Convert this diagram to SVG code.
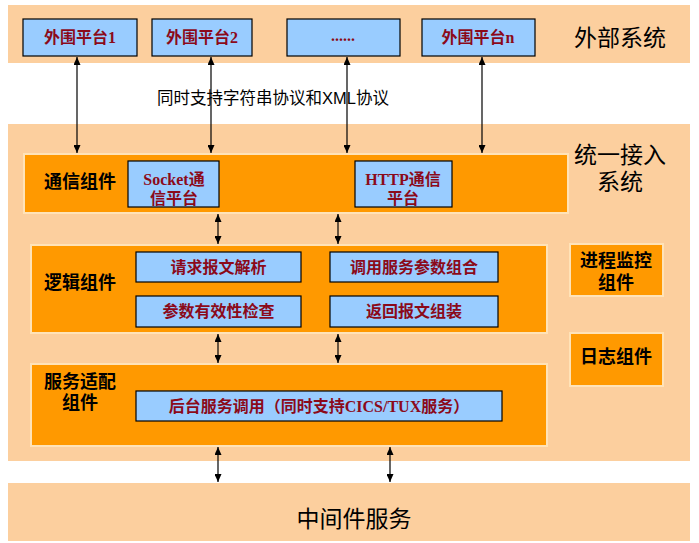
<svg xmlns="http://www.w3.org/2000/svg" width="699" height="543" viewBox="0 0 699 543">
<defs>
<marker id="arr" viewBox="0 0 8 7" refX="8" refY="3.5" markerWidth="8" markerHeight="7" markerUnits="userSpaceOnUse" orient="auto-start-reverse">
<path d="M0,0 L8,3.5 L0,7 z" fill="#000"/>
</marker>
<style>
.band{fill:#FCCF9E}
.comp{fill:#FF9900;stroke:#FFE3B8;stroke-width:2}
.blue{fill:#99CCFF;stroke:#000;stroke-width:1.2}
.bt{font-family:"Liberation Serif","Noto Sans CJK SC",serif;font-size:16px;font-weight:bold;fill:#8B0A1A;text-anchor:middle;dominant-baseline:central}
.ct{font-family:"Liberation Serif","Noto Sans CJK SC",serif;font-size:18px;font-weight:bold;fill:#000;text-anchor:middle;dominant-baseline:central}
.big{font-family:"Liberation Serif","Noto Sans CJK SC",serif;font-size:23px;fill:#000;text-anchor:middle;dominant-baseline:central}
.lbl{font-family:"Liberation Sans","Noto Sans CJK SC",sans-serif;font-size:16.5px;fill:#000;text-anchor:middle;dominant-baseline:central}
.con line{stroke:#000;stroke-width:1.2;marker-start:url(#arr);marker-end:url(#arr)}
</style>
</defs>
<rect width="699" height="543" fill="#fff"/>

<g id="external-band">
<rect class="band" x="8" y="5" width="682" height="58"/>
<text class="big" x="620" y="38">外部系统</text>
</g>
<g id="access-band">
<rect class="band" x="8" y="124" width="682" height="337"/>
<text class="big" x="620" y="155">统一接入</text>
<text class="big" x="620" y="182">系统</text>
</g>
<g id="middleware-band">
<rect class="band" x="8" y="483" width="682" height="58"/>
<text class="big" x="354" y="519">中间件服务</text>
</g>

<g id="platform1"><rect class="blue" x="23" y="19" width="114" height="37"/><text class="bt" x="80" y="37.5">外围平台1</text></g>
<g id="platform2"><rect class="blue" x="152" y="19" width="100" height="37"/><text class="bt" x="202" y="37.5">外围平台2</text></g>
<g id="platform-etc"><rect class="blue" x="287" y="19" width="113" height="37"/><text class="bt" x="343" y="35">......</text></g>
<g id="platformn"><rect class="blue" x="422" y="19" width="113" height="37"/><text class="bt" x="478" y="37.5">外围平台n</text></g>

<text class="lbl" x="273" y="98">同时支持字符串协议和XML协议</text>

<g id="comm">
<rect class="comp" x="24" y="154" width="544" height="59"/>
<text class="ct" x="80" y="182">通信组件</text>
</g>
<g id="socket"><rect class="blue" x="128" y="161" width="91" height="46"/><text class="bt" x="174" y="179">Socket通</text><text class="bt" x="174" y="198">信平台</text></g>
<g id="http"><rect class="blue" x="355" y="161" width="97" height="46"/><text class="bt" x="403" y="179">HTTP通信</text><text class="bt" x="403" y="198">平台</text></g>

<g id="logic">
<rect class="comp" x="31" y="245" width="516" height="88"/>
<text class="ct" x="80" y="283">逻辑组件</text>
</g>
<g id="parse"><rect class="blue" x="136" y="252" width="165" height="30"/><text class="bt" x="218.5" y="267">请求报文解析</text></g>
<g id="compose"><rect class="blue" x="330" y="252" width="168" height="30"/><text class="bt" x="414" y="267">调用服务参数组合</text></g>
<g id="validate"><rect class="blue" x="136" y="296" width="165" height="31"/><text class="bt" x="218.5" y="311.5">参数有效性检查</text></g>
<g id="assemble"><rect class="blue" x="330" y="296" width="168" height="31"/><text class="bt" x="414" y="311.5">返回报文组装</text></g>

<g id="adapter">
<rect class="comp" x="31" y="364" width="516" height="82"/>
<text class="ct" x="80" y="382">服务适配</text>
<text class="ct" x="80" y="403">组件</text>
</g>
<g id="backend"><rect class="blue" x="136" y="391" width="366" height="30"/><text class="bt" x="319" y="406">后台服务调用（同时支持CICS/TUX服务）</text></g>

<g id="monitor">
<rect class="comp" x="570" y="244" width="93" height="52"/>
<text class="ct" x="616" y="261">进程监控</text>
<text class="ct" x="616" y="283">组件</text>
</g>
<g id="log">
<rect class="comp" x="570" y="333" width="93" height="53"/>
<text class="ct" x="616" y="357">日志组件</text>
</g>

<g id="connectors" class="con">
<line x1="77" y1="57" x2="77" y2="153"/>
<line x1="211" y1="57" x2="211" y2="153"/>
<line x1="347" y1="57" x2="347" y2="153"/>
<line x1="482" y1="57" x2="482" y2="153"/>
<line x1="218" y1="214" x2="218" y2="244"/>
<line x1="338" y1="214" x2="338" y2="244"/>
<line x1="218" y1="334" x2="218" y2="363"/>
<line x1="338" y1="334" x2="338" y2="363"/>
<line x1="218" y1="447" x2="218" y2="482"/>
<line x1="390" y1="447" x2="390" y2="482"/>
</g>
</svg>
